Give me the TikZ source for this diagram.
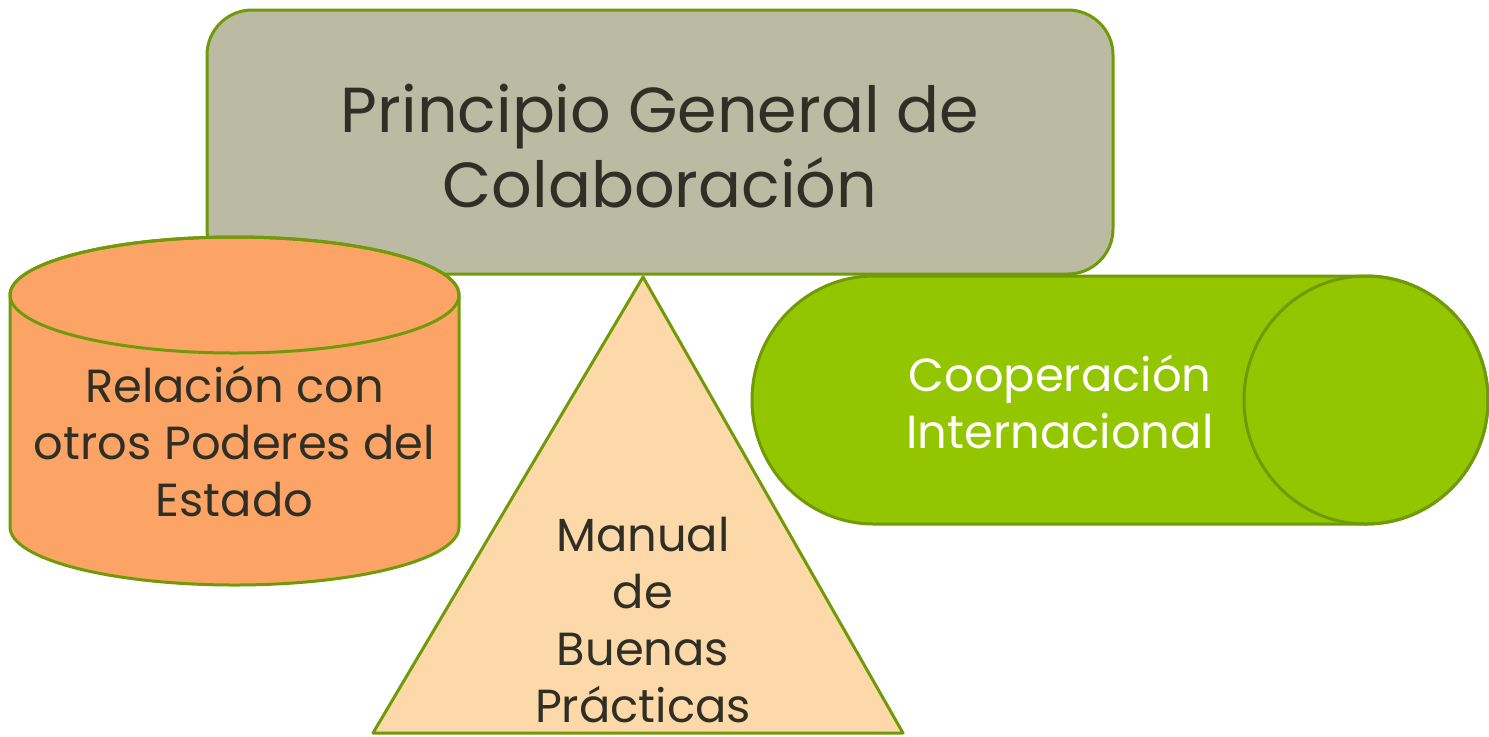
\documentclass[tikz,border=0pt]{standalone}
\usepackage{fontspec}
\setmainfont{Poppins}
\usepackage{tikz}

\definecolor{edgegreen}{RGB}{112,154,8}
\definecolor{titlegray}{RGB}{187,187,163}
\definecolor{cylorange}{RGB}{252,164,102}
\definecolor{trisand}{RGB}{253,216,168}
\definecolor{capgreen}{RGB}{148,198,0}
\definecolor{darktext}{RGB}{47,47,37}

\begin{document}
\begin{tikzpicture}[x=0.5pt,y=-0.5pt,
	shapeline/.style={draw=edgegreen,line width=1.5pt,line join=round},
	bigtext/.style={align=center,text=darktext,font=\fontsize{31.8}{37.5}\selectfont},
	smalltext/.style={align=center,text=darktext,font=\fontsize{23.2}{28.5}\selectfont}]
\useasboundingbox (0,0) rectangle (1489,736);

% titulo
\draw[shapeline,fill=titlegray,rounded corners=22.5pt] (207,10) rectangle (1113,274);
\node[bigtext] (titulo) at (660,146) {Principio General de\\Colaboración};

% cilindro
\filldraw[shapeline,fill=cylorange] (10,295) -- (10,527)
	arc[start angle=180,end angle=360,x radius=112.25pt,y radius=29pt] -- (459,295)
	arc[start angle=0,end angle=180,x radius=112.25pt,y radius=29pt] -- cycle;
\draw[shapeline] (234.5,295) ellipse [x radius=112.25pt,y radius=29pt];
\node[smalltext] (relacion) at (234.5,441) {Relación con\\otros Poderes del\\Estado};

% triangulo
\filldraw[shapeline,fill=trisand] (643,277) -- (903,733) -- (373,733) -- cycle;
\node[smalltext] (manual) at (643,620) {Manual\\de\\Buenas\\Prácticas};

% capsula
\filldraw[shapeline,fill=capgreen] (1366,276) -- (874,276)
	arc[start angle=90,end angle=270,x radius=61pt,y radius=62pt] -- (1366,524)
	arc[start angle=270,end angle=450,x radius=61pt,y radius=62pt] -- cycle;
\draw[shapeline] (1366,400) ellipse [x radius=61pt,y radius=62pt];
\node[smalltext,text=white] (coop) at (1060,402) {Cooperación\\Internacional};
\end{tikzpicture}
\end{document}
